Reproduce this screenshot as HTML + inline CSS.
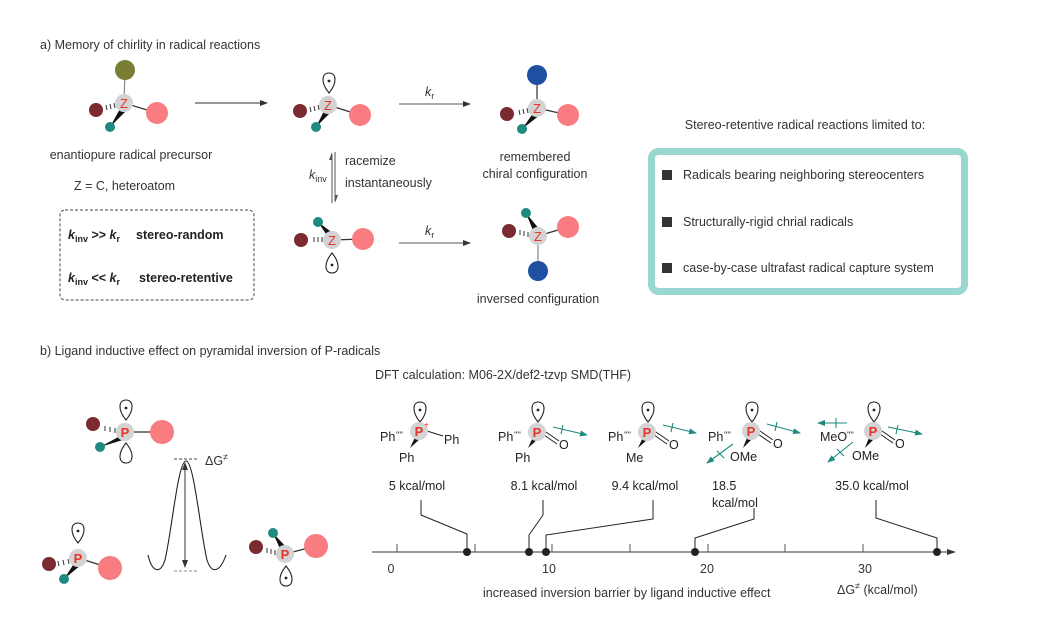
<!DOCTYPE html>
<html><head><meta charset="utf-8"><style>
html,body{margin:0;padding:0;background:#fff}
svg{display:block;font-family:"Liberation Sans",Arial,sans-serif}
</style></head><body>
<svg width="1064" height="617" viewBox="0 0 1064 617" xmlns="http://www.w3.org/2000/svg">
<defs>
<g id="lobeD"><path d="M0,10 C-9,-1 -7,-10 0,-10 C7,-10 9,-1 0,10 Z" fill="#fff" stroke="#222" stroke-width="1.1"/><circle cx="0" cy="-2" r="1.4" fill="#222"/></g>
<g id="lobeU"><path d="M0,-10 C-9,1 -7,10 0,10 C7,10 9,1 0,-10 Z" fill="#fff" stroke="#222" stroke-width="1.1"/><circle cx="0" cy="2" r="1.4" fill="#222"/></g>
<g id="lobeE"><path d="M0,-10 C-9,1 -7,10 0,10 C7,10 9,1 0,-10 Z" fill="#fff" stroke="#222" stroke-width="1.1"/></g>
<marker id="ah" markerWidth="8" markerHeight="6" refX="7" refY="3" orient="auto" markerUnits="userSpaceOnUse"><path d="M0,0 L8,3 L0,6 Z" fill="#333"/></marker>
<marker id="ht" markerWidth="8" markerHeight="6" refX="7" refY="3" orient="auto" markerUnits="userSpaceOnUse"><path d="M0,0 L8,3 L0,6 Z" fill="#1e8a80"/></marker>
</defs>
<g font-size="12.5" fill="#333">
<text x="40" y="49">a) Memory of chirlity in radical reactions</text>
<text x="40" y="355">b) Ligand inductive effect on pyramidal inversion of P-radicals</text>
</g>

<!-- Mol1 -->
<g transform="translate(124,103)">
<line x1="0" y1="0" x2="1" y2="-33" stroke="#888" stroke-width="1.2"/><circle cx="1" cy="-33" r="10" fill="#7a7d35"/>
<line x1="0" y1="0" x2="33" y2="10" stroke="#333" stroke-width="1.2"/><circle cx="33" cy="10" r="11" fill="#f87c80"/>
<g stroke="#333" stroke-width="1"><line x1="-10" y1="0" x2="-9" y2="5"/><line x1="-14" y1="1" x2="-13" y2="6"/><line x1="-18" y1="2" x2="-17" y2="7"/></g>
<circle cx="-28" cy="7" r="7" fill="#7a2a30"/>
<polygon points="-3,4 3,7 -14,24" fill="#111"/><circle cx="-14" cy="24" r="5" fill="#1e8a80"/>
<circle cx="0" cy="0" r="9" fill="#d3d3d3"/><text x="0" y="5" text-anchor="middle" font-size="13" fill="#e8322a">Z</text>
</g>
<line x1="195" y1="103" x2="267" y2="103" stroke="#333" stroke-width="1" marker-end="url(#ah)"/>

<!-- Mol2 -->
<g transform="translate(328,105)">
<use href="#lobeD" x="1" y="-22"/>
<line x1="0" y1="0" x2="32" y2="10" stroke="#333" stroke-width="1.2"/><circle cx="32" cy="10" r="11" fill="#f87c80"/>
<g stroke="#333" stroke-width="1"><line x1="-10" y1="0" x2="-9" y2="5"/><line x1="-14" y1="1" x2="-13" y2="6"/><line x1="-18" y1="2" x2="-17" y2="7"/></g>
<circle cx="-28" cy="6" r="7" fill="#7a2a30"/>
<polygon points="-3,4 3,7 -12,22" fill="#111"/><circle cx="-12" cy="22" r="5" fill="#1e8a80"/>
<circle cx="0" cy="0" r="9" fill="#d3d3d3"/><text x="0" y="5" text-anchor="middle" font-size="13" fill="#e8322a">Z</text>
</g>
<line x1="399" y1="104" x2="470" y2="104" stroke="#555" stroke-width="1" marker-end="url(#ah)"/>
<text x="425" y="96" font-size="12.5" fill="#333" font-style="italic">k<tspan font-size="9" dy="3" font-style="normal">r</tspan></text>

<!-- Mol3 -->
<g transform="translate(537,108)">
<line x1="0" y1="0" x2="0" y2="-33" stroke="#333" stroke-width="1.2"/><circle cx="0" cy="-33" r="10" fill="#1f4fa0"/>
<line x1="0" y1="0" x2="31" y2="7" stroke="#333" stroke-width="1.2"/><circle cx="31" cy="7" r="11" fill="#f87c80"/>
<g stroke="#333" stroke-width="1"><line x1="-10" y1="0" x2="-9" y2="5"/><line x1="-14" y1="1" x2="-13" y2="6"/><line x1="-18" y1="2" x2="-17" y2="7"/></g>
<circle cx="-30" cy="6" r="7" fill="#7a2a30"/>
<polygon points="-3,4 3,7 -15,21" fill="#111"/><circle cx="-15" cy="21" r="5" fill="#1e8a80"/>
<circle cx="0" cy="0" r="9" fill="#d3d3d3"/><text x="0" y="5" text-anchor="middle" font-size="13" fill="#e8322a">Z</text>
</g>
<text x="535" y="161" text-anchor="middle" font-size="12.5" fill="#333">remembered</text>
<text x="535" y="178" text-anchor="middle" font-size="12.5" fill="#333">chiral configuration</text>

<!-- equilibrium -->
<line x1="332" y1="203" x2="332" y2="154" stroke="#555" stroke-width="1"/>
<path d="M332,152 L329,160 L332,160 Z" fill="#555"/>
<line x1="335" y1="152" x2="335" y2="201" stroke="#555" stroke-width="1"/>
<path d="M335,203 L338,195 L335,195 Z" fill="#555"/>
<text x="309" y="179" font-size="12.5" fill="#333" font-style="italic">k<tspan font-size="9" dy="3" font-style="normal">inv</tspan></text>
<text x="345" y="165" font-size="12.5" fill="#333">racemize</text>
<text x="345" y="187" font-size="12.5" fill="#333">instantaneously</text>

<!-- Mol4 -->
<g transform="translate(332,240)">
<use href="#lobeU" x="0" y="23"/>
<line x1="0" y1="0" x2="31" y2="-1" stroke="#333" stroke-width="1.2"/><circle cx="31" cy="-1" r="11" fill="#f87c80"/>
<g stroke="#333" stroke-width="1"><line x1="-10" y1="-3" x2="-10" y2="2"/><line x1="-14" y1="-3" x2="-14" y2="2"/><line x1="-18" y1="-3" x2="-18" y2="2"/></g>
<circle cx="-31" cy="0" r="7" fill="#7a2a30"/>
<polygon points="-4,-3 2,-6 -14,-18" fill="#111"/><circle cx="-14" cy="-18" r="5" fill="#1e8a80"/>
<circle cx="0" cy="0" r="9" fill="#d3d3d3"/><text x="0" y="5" text-anchor="middle" font-size="13" fill="#e8322a">Z</text>
</g>
<line x1="399" y1="243" x2="470" y2="243" stroke="#555" stroke-width="1" marker-end="url(#ah)"/>
<text x="425" y="235" font-size="12.5" fill="#333" font-style="italic">k<tspan font-size="9" dy="3" font-style="normal">r</tspan></text>

<!-- Mol5 -->
<g transform="translate(538,236)">
<line x1="0" y1="0" x2="0" y2="35" stroke="#888" stroke-width="1.2"/><circle cx="0" cy="35" r="10" fill="#1f4fa0"/>
<line x1="0" y1="0" x2="30" y2="-9" stroke="#333" stroke-width="1.2"/><circle cx="30" cy="-9" r="11" fill="#f87c80"/>
<g stroke="#333" stroke-width="1"><line x1="-10" y1="-4" x2="-10" y2="1"/><line x1="-14" y1="-5" x2="-14" y2="0"/><line x1="-18" y1="-6" x2="-18" y2="-1"/></g>
<circle cx="-29" cy="-5" r="7" fill="#7a2a30"/>
<polygon points="-4,-3 2,-6 -12,-23" fill="#111"/><circle cx="-12" cy="-23" r="5" fill="#1e8a80"/>
<circle cx="0" cy="0" r="9" fill="#d3d3d3"/><text x="0" y="5" text-anchor="middle" font-size="13" fill="#e8322a">Z</text>
</g>
<text x="538" y="303" text-anchor="middle" font-size="12.5" fill="#333">inversed configuration</text>

<!-- left texts -->
<text x="131" y="159" text-anchor="middle" font-size="12.5" fill="#333">enantiopure radical precursor</text>
<text x="74" y="190" font-size="12.5" fill="#333">Z = C, heteroatom</text>
<rect x="60" y="210" width="194" height="90" rx="5" fill="none" stroke="#444" stroke-width="1" stroke-dasharray="3,2"/>
<g font-size="12.5" fill="#222" font-weight="bold">
<text x="68" y="239"><tspan font-style="italic">k</tspan><tspan font-size="9" dy="3">inv</tspan><tspan dy="-3"> &gt;&gt; </tspan><tspan font-style="italic">k</tspan><tspan font-size="9" dy="3">r</tspan></text>
<text x="136" y="239">stereo-random</text>
<text x="68" y="282"><tspan font-style="italic">k</tspan><tspan font-size="9" dy="3">inv</tspan><tspan dy="-3"> &lt;&lt; </tspan><tspan font-style="italic">k</tspan><tspan font-size="9" dy="3">r</tspan></text>
<text x="139" y="282">stereo-retentive</text>
</g>

<!-- right box -->
<text x="805" y="129" text-anchor="middle" font-size="12.5" fill="#333">Stereo-retentive radical reactions limited to:</text>
<rect x="651.5" y="151.5" width="313" height="140" rx="7" fill="#fff" stroke="#9bd7d1" stroke-width="7"/>
<g font-size="12.5" fill="#333">
<rect x="662" y="170" width="10" height="10" fill="#333"/><text x="683" y="179">Radicals bearing neighboring stereocenters</text>
<rect x="662" y="217" width="10" height="10" fill="#333"/><text x="683" y="226">Structurally-rigid chrial radicals</text>
<rect x="662" y="263" width="10" height="10" fill="#333"/><text x="683" y="272">case-by-case ultrafast radical capture system</text>
</g>

<!-- b) left molecules -->
<g transform="translate(125,432)">
<use href="#lobeD" x="1" y="-22"/>
<use href="#lobeE" x="1" y="21"/>
<line x1="0" y1="0" x2="37" y2="0" stroke="#333" stroke-width="1.2"/><circle cx="37" cy="0" r="12" fill="#f87c80"/>
<g stroke="#333" stroke-width="1"><line x1="-10" y1="-4" x2="-10" y2="1"/><line x1="-15" y1="-5" x2="-15" y2="0"/><line x1="-20" y1="-6" x2="-20" y2="-1"/></g>
<circle cx="-32" cy="-8" r="7" fill="#7a2a30"/>
<polygon points="-3,3 1,7 -25,15" fill="#111"/><circle cx="-25" cy="15" r="5" fill="#1e8a80"/>
<circle cx="0" cy="0" r="9" fill="#d3d3d3"/><text x="0" y="5" text-anchor="middle" font-size="13" font-weight="bold" fill="#e8322a">P</text>
</g>
<g transform="translate(78,558)">
<use href="#lobeD" x="0" y="-25"/>
<line x1="0" y1="0" x2="32" y2="10" stroke="#333" stroke-width="1.2"/><circle cx="32" cy="10" r="12" fill="#f87c80"/>
<g stroke="#333" stroke-width="1"><line x1="-10" y1="1" x2="-9" y2="6"/><line x1="-15" y1="2" x2="-14" y2="7"/><line x1="-20" y1="3" x2="-19" y2="8"/></g>
<circle cx="-29" cy="6" r="7" fill="#7a2a30"/>
<polygon points="-3,4 3,7 -14,21" fill="#111"/><circle cx="-14" cy="21" r="5" fill="#1e8a80"/>
<circle cx="0" cy="0" r="9" fill="#d3d3d3"/><text x="0" y="5" text-anchor="middle" font-size="13" font-weight="bold" fill="#e8322a">P</text>
</g>
<g transform="translate(285,554)">
<use href="#lobeU" x="1" y="22"/>
<line x1="0" y1="0" x2="31" y2="-8" stroke="#333" stroke-width="1.2"/><circle cx="31" cy="-8" r="12" fill="#f87c80"/>
<g stroke="#333" stroke-width="1"><line x1="-10" y1="-4" x2="-10" y2="1"/><line x1="-14" y1="-5" x2="-14" y2="0"/><line x1="-18" y1="-6" x2="-18" y2="-1"/></g>
<circle cx="-29" cy="-7" r="7" fill="#7a2a30"/>
<polygon points="-4,-3 2,-6 -12,-21" fill="#111"/><circle cx="-12" cy="-21" r="5" fill="#1e8a80"/>
<circle cx="0" cy="0" r="9" fill="#d3d3d3"/><text x="0" y="5" text-anchor="middle" font-size="13" font-weight="bold" fill="#e8322a">P</text>
</g>
<!-- energy curve -->
<path d="M148,555 C152,572 160,575 165,560 C172,530 178,461 186,461 C194,461 200,530 207,560 C212,575 220,572 226,555" fill="none" stroke="#222" stroke-width="1.1"/>
<line x1="174" y1="459" x2="198" y2="459" stroke="#444" stroke-dasharray="3,2"/>
<line x1="174" y1="571" x2="198" y2="571" stroke="#888" stroke-dasharray="3,2"/>
<line x1="185" y1="464" x2="185" y2="566" stroke="#333" stroke-width="1"/>
<path d="M185,462 L182,470 L188,470 Z" fill="#333"/><path d="M185,568 L182,560 L188,560 Z" fill="#333"/>
<text x="205" y="465" font-size="12.5" fill="#333">ΔG<tspan font-size="9" dy="-5">≠</tspan></text>

<!-- DFT -->
<text x="375" y="379" font-size="12.5" fill="#333">DFT calculation: M06-2X/def2-tzvp SMD(THF)</text>
<g font-size="12.5" fill="#222">
<!-- P1 -->
<use href="#lobeD" x="420" y="412"/>
<text x="380" y="441">Ph</text><text x="396" y="438" font-size="9">''''</text>
<line x1="427" y1="431" x2="443" y2="436" stroke="#222"/>
<text x="444" y="444">Ph</text>
<polygon points="416,435 421,438 410,448" fill="#111"/>
<text x="399" y="462">Ph</text>
<circle cx="419" cy="431" r="9" fill="#d3d3d3"/><text x="419" y="436" text-anchor="middle" font-size="13" font-weight="bold" fill="#e8322a">P</text><text x="424" y="427" font-size="8" fill="#e8322a">+</text>
<text x="417" y="490" text-anchor="middle">5 kcal/mol</text>
<!-- P2 -->
<use href="#lobeD" x="538" y="412"/>
<text x="498" y="441">Ph</text><text x="514" y="438" font-size="9">''''</text>
<line x1="544" y1="435" x2="557" y2="444" stroke="#222"/><line x1="546" y1="432" x2="559" y2="441" stroke="#222"/>
<text x="559" y="449">O</text>
<polygon points="534,435 539,438 528,448" fill="#111"/>
<text x="515" y="462">Ph</text>
<circle cx="537" cy="432" r="9" fill="#d3d3d3"/><text x="537" y="437" text-anchor="middle" font-size="13" font-weight="bold" fill="#e8322a">P</text>
<text x="544" y="490" text-anchor="middle">8.1 kcal/mol</text>
<!-- P3 -->
<use href="#lobeD" x="648" y="412"/>
<text x="608" y="441">Ph</text><text x="624" y="438" font-size="9">''''</text>
<line x1="654" y1="435" x2="667" y2="444" stroke="#222"/><line x1="656" y1="432" x2="669" y2="441" stroke="#222"/>
<text x="669" y="449">O</text>
<polygon points="644,435 649,438 638,448" fill="#111"/>
<text x="626" y="462">Me</text>
<circle cx="647" cy="432" r="9" fill="#d3d3d3"/><text x="647" y="437" text-anchor="middle" font-size="13" font-weight="bold" fill="#e8322a">P</text>
<text x="645" y="490" text-anchor="middle">9.4 kcal/mol</text>
<!-- P4 -->
<use href="#lobeD" x="752" y="412"/>
<text x="708" y="441">Ph</text><text x="724" y="438" font-size="9">''''</text>
<line x1="758" y1="434" x2="771" y2="443" stroke="#222"/><line x1="760" y1="431" x2="773" y2="440" stroke="#222"/>
<text x="773" y="448">O</text>
<polygon points="748,435 753,438 743,448" fill="#111"/>
<text x="730" y="461">OMe</text>
<circle cx="751" cy="431" r="9" fill="#d3d3d3"/><text x="751" y="436" text-anchor="middle" font-size="13" font-weight="bold" fill="#e8322a">P</text>
<text x="712" y="490">18.5</text><text x="712" y="507">kcal/mol</text>
<!-- P5 -->
<use href="#lobeD" x="874" y="412"/>
<text x="820" y="441">MeO</text><text x="847" y="438" font-size="9">''''</text>
<line x1="880" y1="434" x2="893" y2="443" stroke="#222"/><line x1="882" y1="431" x2="895" y2="440" stroke="#222"/>
<text x="895" y="448">O</text>
<polygon points="870,435 875,438 865,448" fill="#111"/>
<text x="852" y="460">OMe</text>
<circle cx="873" cy="431" r="9" fill="#d3d3d3"/><text x="873" y="436" text-anchor="middle" font-size="13" font-weight="bold" fill="#e8322a">P</text>
<text x="872" y="490" text-anchor="middle">35.0 kcal/mol</text>
</g>
<!-- teal dipole arrows -->
<g stroke="#1e8a80" stroke-width="1.1" fill="none">
<line x1="553" y1="427" x2="587" y2="435" marker-end="url(#ht)"/><line x1="563" y1="425" x2="561" y2="434"/>
<line x1="663" y1="425" x2="696" y2="433" marker-end="url(#ht)"/><line x1="673" y1="423" x2="671" y2="432"/>
<line x1="767" y1="424" x2="800" y2="433" marker-end="url(#ht)"/><line x1="777" y1="422" x2="775" y2="431"/>
<line x1="733" y1="444" x2="707" y2="463" marker-end="url(#ht)"/><line x1="717" y1="451" x2="724" y2="458"/>
<line x1="888" y1="427" x2="922" y2="434" marker-end="url(#ht)"/><line x1="898" y1="425" x2="896" y2="434"/>
<line x1="847" y1="423" x2="818" y2="423" marker-end="url(#ht)"/><line x1="836" y1="418" x2="836" y2="428"/>
<line x1="853" y1="442" x2="828" y2="462" marker-end="url(#ht)"/><line x1="837" y1="449" x2="844" y2="456"/>
</g>

<!-- axis -->
<line x1="372" y1="552" x2="950" y2="552" stroke="#333" stroke-width="1"/>
<path d="M956,552 L947,549 L947,555 Z" fill="#333"/>
<g stroke="#555" stroke-width="1">
<line x1="397" y1="552" x2="397" y2="544"/><line x1="475" y1="552" x2="475" y2="544"/><line x1="552" y1="552" x2="552" y2="544"/>
<line x1="630" y1="552" x2="630" y2="544"/><line x1="708" y1="552" x2="708" y2="544"/><line x1="785" y1="552" x2="785" y2="544"/><line x1="863" y1="552" x2="863" y2="544"/>
</g>
<g fill="#222"><circle cx="467" cy="552" r="4"/><circle cx="529" cy="552" r="4"/><circle cx="546" cy="552" r="4"/><circle cx="695" cy="552" r="4"/><circle cx="937" cy="552" r="4"/></g>
<g stroke="#222" stroke-width="1" fill="none">
<polyline points="421,500 421,515 467,534 467,552"/>
<polyline points="543,500 543,515 529,535 529,552"/>
<polyline points="653,500 653,519 546,535 546,552"/>
<polyline points="754,508 754,519 695,538 695,552"/>
<polyline points="876,500 876,518 937,538 937,552"/>
</g>
<g font-size="12.5" fill="#333" text-anchor="middle">
<text x="391" y="573">0</text><text x="549" y="573">10</text><text x="707" y="573">20</text><text x="865" y="573">30</text>
</g>
<text x="483" y="597" font-size="12.5" fill="#333">increased inversion barrier by ligand inductive effect</text>
<text x="837" y="594" font-size="12.5" fill="#333">ΔG<tspan font-size="9" dy="-5">≠</tspan><tspan dy="5"> (kcal/mol)</tspan></text>
</svg>
</body></html>
